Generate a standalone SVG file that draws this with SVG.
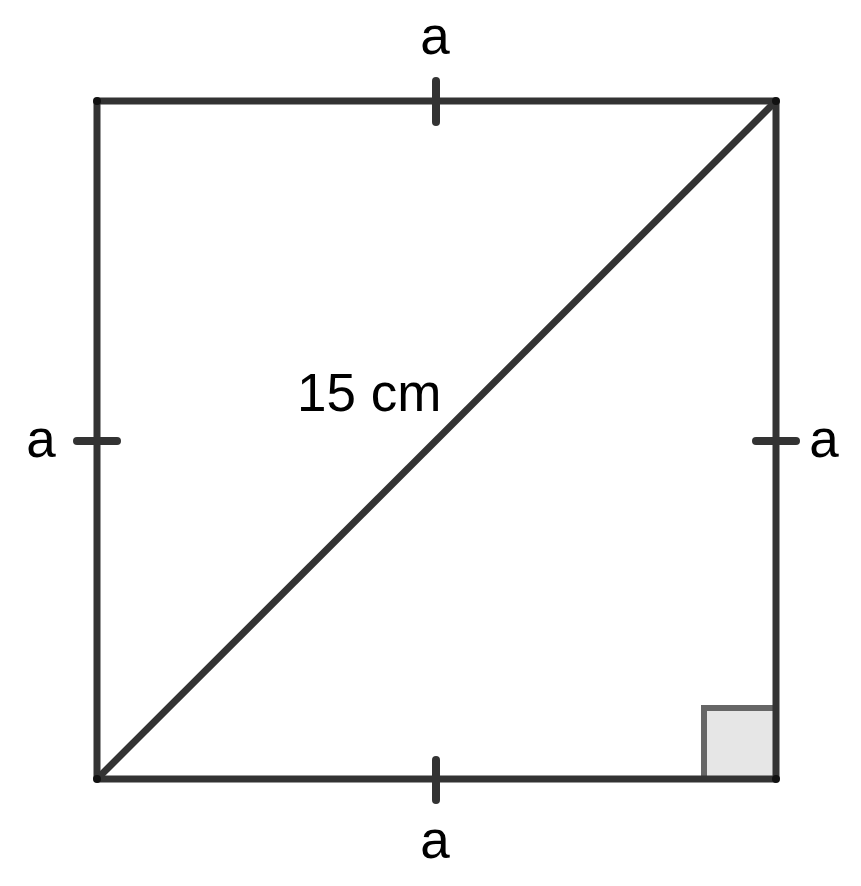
<svg xmlns="http://www.w3.org/2000/svg" width="861" height="886" viewBox="0 0 861 886">
<style>
.e{stroke:#333;stroke-width:7;fill:none;stroke-linecap:butt}
.t{stroke:#333;stroke-width:8;stroke-linecap:round}
.lbl{font-family:"Liberation Sans",Arial,sans-serif;font-size:53px;fill:#000}
.v{fill:#111}
</style>
<rect width="861" height="886" fill="#fff"/>
<g id="right-angle"><rect x="704" y="708" width="72" height="71" fill="#e6e6e6" stroke="#666" stroke-width="6"/></g>
<g id="connectors">
<line class="e" x1="97" y1="101" x2="776" y2="101"/>
<line class="e" x1="776" y1="101" x2="776" y2="779"/>
<line class="e" x1="776" y1="779" x2="97" y2="779"/>
<line class="e" x1="97" y1="779" x2="97" y2="101"/>
<line class="e" x1="97" y1="779" x2="776" y2="101"/>
</g>
<g id="ticks">
<line class="t" x1="436" y1="81" x2="436" y2="122"/>
<line class="t" x1="436" y1="760" x2="436" y2="800"/>
<line class="t" x1="77" y1="441" x2="117" y2="441"/>
<line class="t" x1="756" y1="441" x2="796" y2="441"/>
</g>
<g id="vertices">
<circle class="v" cx="97" cy="101" r="4"/>
<circle class="v" cx="776" cy="101" r="4"/>
<circle class="v" cx="776" cy="779" r="4"/>
<circle class="v" cx="97" cy="779" r="4"/>
</g>
<g id="labels">
<text class="lbl" x="435" y="54" text-anchor="middle">a</text>
<text class="lbl" x="435" y="858" text-anchor="middle">a</text>
<text class="lbl" x="41" y="457" text-anchor="middle">a</text>
<text class="lbl" x="824" y="457" text-anchor="middle">a</text>
<text class="lbl" x="297" y="411">15 cm</text>
</g>
</svg>
